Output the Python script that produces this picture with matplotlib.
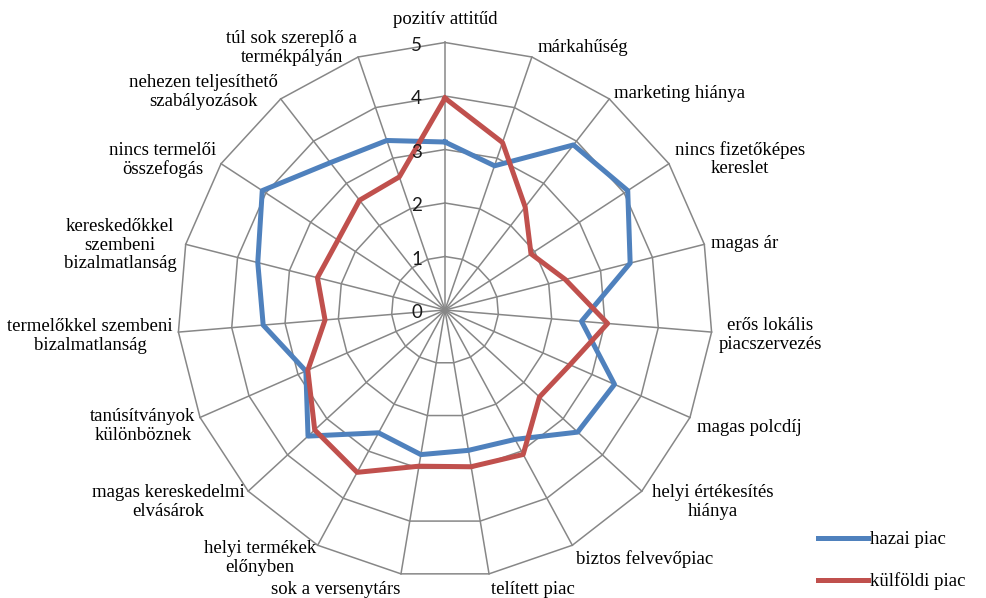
import numpy as np
import matplotlib.pyplot as plt
from matplotlib.lines import Line2D
from matplotlib.transforms import offset_copy

# categories clockwise from the top
categories = [
    "pozitív attitűd",
    "márkahűség",
    "marketing hiánya",
    "nincs fizetőképes\nkereslet",
    "magas ár",
    "erős lokális\npiacszervezés",
    "magas polcdíj",
    "helyi értékesítés\nhiánya",
    "biztos felvevőpiac",
    "telített piac",
    "sok a versenytárs",
    "helyi termékek\nelőnyben",
    "magas kereskedelmi\nelvásárok",
    "tanúsítványok\nkülönböznek",
    "termelőkkel szembeni\nbizalmatlanság",
    "kereskedőkkel\nszembeni\nbizalmatlanság",
    "nincs termelői\nösszefogás",
    "nehezen teljesíthető\nszabályozások",
    "túl sok szereplő a\ntermékpályán",
]
hazai = [3.14, 2.85, 3.91, 4.08, 3.57, 2.56, 3.46, 3.37, 2.75, 2.66,
         2.74, 2.61, 3.48, 2.84, 3.41, 3.61, 4.08, 3.49, 3.35]
kulfoldi = [3.96, 3.31, 2.44, 1.92, 2.32, 3.05, 2.55, 2.40, 3.07, 2.97,
            2.96, 3.45, 3.31, 2.80, 2.25, 2.46, 2.39, 2.60, 2.63]
levels = [0, 1, 2, 3, 4, 5]
series_names = ["hazai piac", "külföldi piac"]

# label centres in figure pixels (layout only)
label_xy = [
    (445, 20), (583, 47), (680, 93), (740, 159), (745, 243),
    (770, 335), (749, 427), (713, 502), (645, 559), (533, 589),
    (336, 589), (260, 558), (168, 502), (143, 426), (90, 336),
    (120, 245), (163, 160), (203, 92), (292, 48),
]

W, H = 986, 598
cx, cy, R = 445, 310, 267.5
fig = plt.figure(figsize=(W / 100, H / 100), dpi=100)
ax = fig.add_axes([(cx - R) / W, (H - cy - R) / H, 2 * R / W, 2 * R / H],
                  projection="polar")
ax.set_theta_zero_location("N")
ax.set_theta_direction(-1)
ax.set_ylim(0, 5)
ax.axis("off")

n = len(categories)
theta = np.arange(n) * 2 * np.pi / n
closed = np.append(theta, theta[0])

grid_color = "#878787"
for lvl in levels[1:]:
    ax.plot(closed, [lvl] * (n + 1), color=grid_color, lw=1.1, zorder=1, clip_on=False)
for t in theta:
    ax.plot([t, t], [0, levels[-1]], color=grid_color, lw=1.1, zorder=1, clip_on=False)

blue = "#4F81BD"
red = "#C0504D"
ax.plot(closed, hazai + hazai[:1], color=blue, lw=3.6, zorder=3, clip_on=False)
ax.plot(closed, kulfoldi + kulfoldi[:1], color=red, lw=3.6, zorder=3, clip_on=False)

# radial value labels next to the top spoke
tick_tr = offset_copy(ax.transData, fig=fig, x=-23, y=-3, units="dots")
for lvl in levels:
    ax.text(0, lvl, str(lvl), transform=tick_tr, ha="right", va="center",
            fontsize=13.5, family="Lato", color="#1a1a1a")

for name, (x, y) in zip(categories, label_xy):
    fig.text(x / W, 1 - y / H, name, ha="center", va="center", multialignment="center",
             fontsize=13.5, family="Liberation Serif", color="black", linespacing=1.1)

handles = [Line2D([], [], color=blue, lw=3.6), Line2D([], [], color=red, lw=3.6)]
fig.legend(handles, series_names, loc="upper left", bbox_to_anchor=(818 / W, 1 - 531 / H),
           frameon=False, borderpad=0, borderaxespad=0, handlelength=2.65,
           handletextpad=0.15, labelspacing=1.3,
           prop={"family": "Liberation Serif", "size": 13.5})

fig.savefig("out.png", dpi=100)
